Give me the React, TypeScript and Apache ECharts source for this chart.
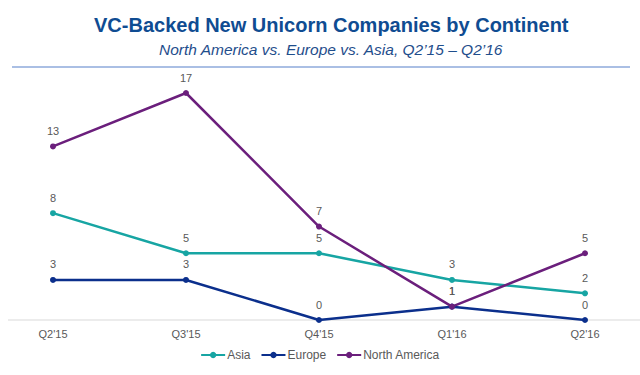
import React, { useEffect, useRef } from "react";
import * as echarts from "echarts";

const categories = ["Q2'15", "Q3'15", "Q4'15", "Q1'16", "Q2'16"];
const asia = [8, 5, 5, 3, 2];
const europe = [3, 3, 0, 1, 0];
const northAmerica = [13, 17, 7, 1, 5];

const FONT = "'Liberation Sans', Arial, sans-serif";

export default function App() {
  const ref = useRef<HTMLDivElement>(null);
  useEffect(() => {
    document.body.style.margin = "0";
    if (!ref.current) return;
    const chart = echarts.init(ref.current, null, { renderer: "svg" });
    const mk = (name: string, data: number[], color: string) => ({
      name,
      type: "line",
      data,
      symbol: "circle",
      symbolSize: 6,
      lineStyle: { color, width: 2.5 },
      itemStyle: { color },
      label: {
        show: true,
        position: "top",
        distance: 7,
        color: "#595959",
        fontSize: 11,
        fontFamily: FONT,
      },
    });
    chart.setOption({
      animation: false,
      textStyle: { fontFamily: FONT },
      title: [
        {
          text: "VC-Backed New Unicorn Companies by Continent",
          left: 89,
          top: 10,
          textStyle: { fontSize: 20, fontWeight: "bold", color: "#0f4c92", fontFamily: FONT },
        },
        {
          text: "North America vs. Europe vs. Asia, Q2\u201915 \u2013 Q2\u201916",
          left: 154,
          top: 36,
          textStyle: { fontSize: 15.5, fontWeight: "normal", fontStyle: "italic", color: "#1f4e8c", fontFamily: FONT },
        },
      ],
      graphic: [
        {
          type: "line",
          shape: { x1: 12, y1: 67, x2: 630, y2: 67 },
          style: { stroke: "#8eaadb", lineWidth: 1.5 },
        },
        {
          type: "line",
          shape: { x1: 8, y1: 320, x2: 640, y2: 320 },
          style: { stroke: "#d9d9d9", lineWidth: 1 },
          z: -1,
        },
      ],
      legend: {
        bottom: 9,
        left: "center",
        itemWidth: 24,
        itemHeight: 8,
        itemGap: 10,
        textStyle: { color: "#595959", fontSize: 12, fontFamily: FONT, padding: [0, 0, 0, -3] },
        data: ["Asia", "Europe", "North America"],
      },
      grid: { left: 53, right: 55, top: 93, bottom: 55 },
      xAxis: {
        type: "category",
        data: categories,
        boundaryGap: false,
        axisLine: { show: false },
        axisTick: { show: false },
        axisLabel: { color: "#595959", fontSize: 11, margin: 8, fontFamily: FONT },
      },
      yAxis: {
        type: "value",
        min: 0,
        max: 17,
        show: false,
        splitLine: { show: false },
      },
      series: [
        mk("Asia", asia, "#17a5a3"),
        mk("Europe", europe, "#0b2f8c"),
        mk("North America", northAmerica, "#6b1f7c"),
      ],
    });
    return () => chart.dispose();
  }, []);
  return <div ref={ref} style={{ width: 640, height: 375 }} />;
}
